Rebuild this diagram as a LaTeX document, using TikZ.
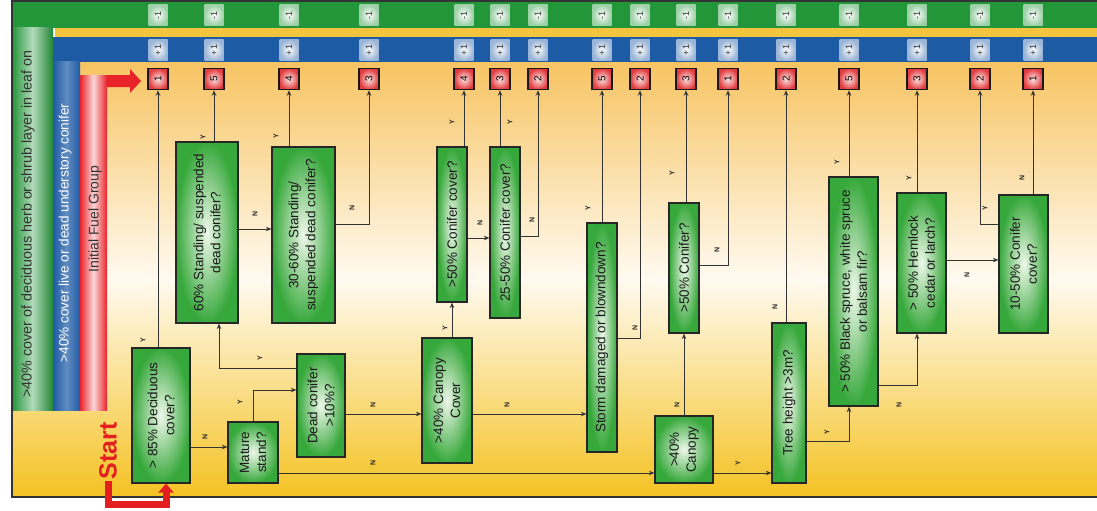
\documentclass[tikz,border=0pt]{standalone}
\usepackage{fontspec}
\usepackage{graphicx}
\setmainfont{Liberation Sans}
\usetikzlibrary{arrows.meta}
\definecolor{gband}{HTML}{23963A}
\definecolor{bband}{HTML}{1E5BA5}
\definecolor{ygap}{HTML}{F3C53E}
\definecolor{rband}{HTML}{E8232A}
\definecolor{boxg}{HTML}{37A83B}
\definecolor{boxin}{HTML}{EEF8EA}
\definecolor{redbox}{HTML}{E23B3E}
\definecolor{redin}{HTML}{FBE6E6}
\definecolor{lin}{HTML}{333333}
\definecolor{bgtop}{HTML}{F7C462}
\definecolor{bgmid}{HTML}{FFFAF0}
\definecolor{bgbot}{HTML}{F4C222}
\definecolor{startred}{HTML}{E3201F}
\newcommand{\mkq}[6]{%
  \node[qbox, minimum width={#4-#2}, minimum height={#5-#3}] (#1) at ({(#2+#4)/2},{(#3+#5)/2}) {};
  \node[qtext] (#1t) at (#1.center) {#6};}
\begin{document}
\begin{tikzpicture}[x=1pt,y=-1pt,
  qbox/.style={draw=black!85, line width=1.2pt, inner color=boxin, outer color=boxg, inner sep=0pt},
  qtext/.style={rotate=90, align=center, font=\fontsize{13.5}{17}\selectfont, text=black!90, inner sep=0pt},
  rbox/.style={draw=black!90, line width=1.5pt, inner color=redin, outer color=redbox, minimum width=20pt, minimum height=21pt, inner sep=0pt, font=\fontsize{10}{10}\selectfont},
  pbadge/.style={inner color=white, outer color=bband!45!white, minimum width=19pt, minimum height=21pt, inner sep=0pt, font=\fontsize{9}{9}\selectfont, text=black!80},
  mbadge/.style={inner color=white, outer color=gband!45!white, minimum width=19pt, minimum height=21pt, inner sep=0pt, font=\fontsize{9}{9}\selectfont, text=black!80},
  conn/.style={draw=lin, line width=1pt, -{Stealth[length=5.5pt,width=4.5pt]}},
  yn/.style={rotate=90, font=\fontsize{7}{7}\selectfont\bfseries, text=black!85, inner sep=0pt},
  bandtext/.style={rotate=90, inner sep=0pt},
  startline/.style={draw=startred, line width=7pt, -{Triangle[length=9pt,width=15pt]}}
]
\useasboundingbox (0,0) rectangle (1097,511);
\fill[white] (0,0) rectangle (1097,511);
% background
\shade[top color=bgtop, bottom color=bgbot, middle color=bgmid] (12,62) rectangle (1100,497);
% green band
\fill[gband] (12,1) rectangle (1100,28);
\shade[left color=gband, right color=gband!90!black, middle color=gband!35!white] (12,28) rectangle (53,410);
% yellow gap
\fill[ygap] (55,28) rectangle (1100,37);
% blue band
\fill[bband] (53,37) rectangle (1100,62);
\shade[left color=bband, right color=bband, middle color=bband!70!white] (53,62) rectangle (80,410);
% red initial fuel group arrow
\fill[rband] (80,75) -- (130,75) -- (130,69) -- (141,81) -- (130,93) -- (130,87) -- (80,87) -- cycle;
\shade[left color=rband, right color=rband, middle color=rband!18!white] (80,75) rectangle (107,410);
% frame
\draw[black!80, line width=1.5pt] (1100,1) -- (12,1) -- (12,497) -- (1100,497);
% band texts
\node[bandtext, font=\fontsize{14.3}{14.3}\selectfont, text=black!80] (gt) at (28,224) {>40\% cover of deciduous herb or shrub layer in leaf on};
\node[bandtext, font=\fontsize{13.6}{13.6}\selectfont, text=white] (bt) at (65,233) {>40\% cover live or dead understory conifer};
\node[bandtext, font=\fontsize{14}{14}\selectfont, text=black!80] (rt) at (95,219) {Initial Fuel Group};
% result boxes and badges
\foreach \n/\x/\v in {1/158/1, 2/214/5, 3/289/4, 4/369/3, 5/464/4, 6/500/3, 7/538/2, 8/602/5, 9/640/2, 10/686/3, 11/728/1, 12/786/2, 13/849/5, 14/917/3, 15/980/2, 16/1033/1} {
  \node[rbox] (r\n) at (\x,79) {\rotatebox{90}{\v}};
  \node[pbadge] (p\n) at (\x,50) {\rotatebox{90}{+1}};
  \node[mbadge] (m\n) at (\x,15) {\rotatebox{90}{-1}};
}
% question boxes
\mkq{b1}{132}{348}{190}{483}{> 85\% Deciduous\\cover?}
\mkq{b2}{228}{422}{278}{483}{Mature\\stand?}
\mkq{b3}{297}{354}{345}{457}{Dead conifer\\>10\%?}
\mkq{b4}{176}{142}{238}{323}{60\% Standing/ suspended\\dead conifer?}
\mkq{b5}{272}{147}{335}{323}{30-60\% Standing/\\suspended dead conifer?}
\mkq{b6}{422}{338}{472}{463}{>40\% Canopy\\Cover}
\mkq{b7}{437}{147}{467}{302}{>50\% Conifer cover?}
\mkq{b8}{490}{147}{520}{318}{25-50\% Conifer cover?}
\mkq{b9}{587}{223}{617}{452}{Storm damaged or blowndown?}
\mkq{b10}{655}{416}{713}{483}{>40\%\\Canopy}
\mkq{b11}{669}{203}{699}{333}{>50\% Conifer?}
\mkq{b12}{772}{323}{806}{483}{Tree height >3m?}
\mkq{b13}{829}{177}{878}{406}{> 50\% Black spruce, white spruce\\or balsam fir?}
\mkq{b14}{897}{193}{946}{333}{> 50\% Hemlock\\cedar or larch?}
\mkq{b15}{999}{195}{1048}{333}{10-50\% Conifer\\cover?}
% start
\node[rotate=90, font=\fontsize{25}{25}\selectfont\bfseries, text=startred, inner sep=1pt] (st) at (108,451) {Start};
\coordinate (sc) at (166,504);
\draw[startline] (st.west) |- (sc) -- (sc |- b1.south);
% connectors
\draw[conn] (r1 |- b1.north) -- (r1);
\draw[conn] (b1.east |- 0,447) -- (b2.west |- 0,447);
\draw[conn] (b2.north) |- (b3.west |- 0,390);
\draw[conn] (b3.west |- 0,368) -| (b4.south -| 219,0);
\draw[conn] (b2.east |- 0,473) -- (b10.west |- 0,473);
\draw[conn] (b3.east |- 0,414) -- (b6.west |- 0,414);
\draw[conn] (b7.south |- b6.north) -- (b7.south);
\draw[conn] (b6.east |- 0,414) -- (b9.west |- 0,414);
\draw[conn] (r2 |- b4.north) -- (r2);
\draw[conn] (b4.east |- 0,229) -- (b5.west |- 0,229);
\draw[conn] (r3 |- b5.north) -- (r3);
\draw[conn] (b5.east |- 0,224) -| (r4);
\draw[conn] (r5 |- b7.north) -- (r5);
\draw[conn] (b7.east |- 0,238) -- (b8.west |- 0,238);
\draw[conn] (r6 |- b8.north) -- (r6);
\draw[conn] (b8.east |- 0,236) -| (r7);
\draw[conn] (r8 |- b9.north) -- (r8);
\draw[conn] (b9.east |- 0,338) -| (r9);
\draw[conn] (b10.north) -- (b11.south);
\draw[conn] (r10 |- b11.north) -- (r10);
\draw[conn] (b11.east |- 0,265) -| (r11);
\draw[conn] (b10.east |- 0,473) -- (b12.west |- 0,473);
\draw[conn] (r12 |- b12.north) -- (r12);
\draw[conn] (b12.east |- 0,441) -| (r13 |- b13.south);
\draw[conn] (r13 |- b13.north) -- (r13);
\draw[conn] (b13.east |- 0,385) -| (r14 |- b14.south);
\draw[conn] (r14 |- b14.north) -- (r14);
\draw[conn] (b14.east |- 0,260) -- (b15.west |- 0,260);
\draw[conn] (r16 |- b15.north) -- (r16);
\draw[conn] (b15.west |- 0,224) -| (r15);
% Y/N labels
\foreach \t/\x/\y in {Y/143/340, N/205/437, Y/240/402, Y/260/358, N/373/463, N/373/405, Y/445/328, N/507/405, Y/203/137, N/255/214, Y/276/136, N/352/208, Y/452/122, N/480/223, Y/510/122, N/532/220, Y/588/208, N/635/328, N/677/405, Y/672/173, N/717/250, Y/738/463, N/775/307, Y/827/432, Y/837/162, N/899/405, Y/909/178, N/967/275, N/1022/178, Y/985/208} {
  \node[yn] at (\x,\y) {\t};
}
\end{tikzpicture}
\end{document}
